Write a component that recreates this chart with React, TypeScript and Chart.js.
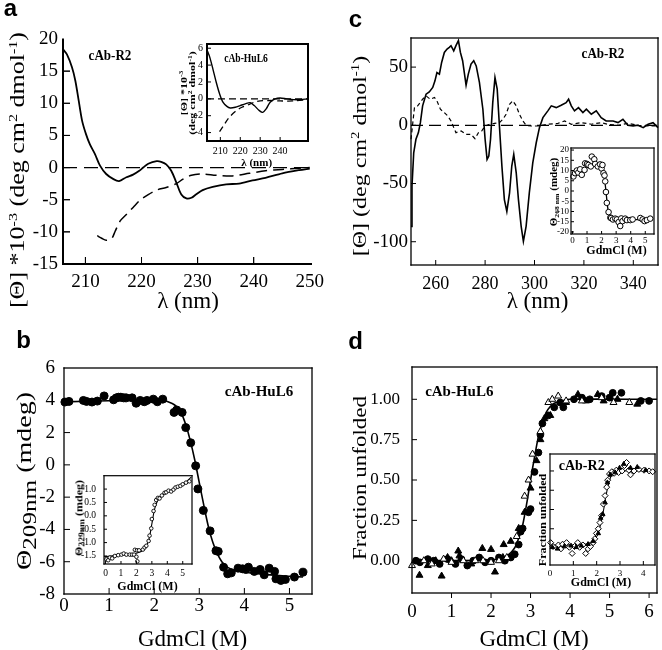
import React, { useEffect, useRef } from 'react';
import { Chart, registerables } from 'chart.js';
Chart.register(...registerables);

const SERIF = '"Liberation Serif", "Times New Roman", serif';
const SANS = '"Liberation Sans", Arial, sans-serif';

type P = [number, number][];

// ---------------- Panel a (main) ----------------
const aXRange: [number, number] = [206, 250];
const aYRange: [number, number] = [-15, 20];
const aXTicks = [210, 220, 230, 240, 250];
const aYTicks = [-15, -10, -5, 0, 5, 10, 15, 20];
const aSolid: P = [[206,18.4],[206.7,17.6],[207.6,15.6],[208.2,13.5],[208.8,10.4],[209.4,7.3],[210.1,5.2],[210.8,3.6],[211.7,2.1],[212.6,0.3],[213.7,-1.0],[215,-1.8],[216,-2.1],[217.3,-1.5],[218.5,-1.1],[219.6,-0.5],[220.3,0],[221.2,0.6],[222.7,1.0],[223.5,0.9],[224.4,0.5],[225.3,-0.5],[226.2,-2.3],[227.1,-4.2],[228,-4.8],[228.9,-4.7],[229.7,-4.2],[230.9,-3.5],[232.7,-3.0],[235.1,-2.6],[237.4,-2.5],[239.8,-2.0],[242.1,-1.6],[245.1,-0.9],[248.1,-0.4],[250,-0.15]];
const aDashed: P = [[212.1,-10.6],[212.9,-11.0],[213.7,-11.3],[214.7,-11.0],[215.3,-9.9],[216.2,-8.3],[217.3,-7.3],[218.5,-6.2],[219.7,-5.1],[221.2,-4.2],[222.7,-3.5],[224.4,-3.1],[226.2,-2.5],[227.4,-1.8],[228.9,-1.2],[230.9,-1.0],[233.3,-1.2],[236.2,-1.3],[239.2,-0.9],[242.1,-0.5],[245.1,-0.3],[248.1,-0.1],[250,0]];
const aZero: P = [[206,0],[250,0]];

// ---------------- Panel a (inset) ----------------
const aiXTicks = [210, 220, 230, 240];
const aiYTicks = [-4, -2, 0, 2, 4, 6];
const aiSolid: P = [[203.3,5.8],[204.6,5.0],[206.3,3.5],[208,1.9],[209.6,0.6],[211.3,-0.4],[213.3,-0.9],[215,-1.08],[217.5,-1.0],[220,-0.8],[222.5,-0.6],[225,-0.46],[227,-0.8],[229.6,-1.4],[231.3,-1.6],[233,-1.2],[235,-0.4],[237.5,0],[240,0.1],[243.3,0],[246.7,-0.1],[250,-0.1],[254,0]];
const aiDashed: P = [[209.6,-3.9],[211.3,-3.3],[214.1,-2.3],[217.5,-1.5],[220.8,-1.0],[224.1,-0.7],[227,-0.4],[230,-0.25],[235,-0.2],[240,-0.25],[246.7,-0.25],[254,-0.1]];
const aiZero: P = [[203.3,0],[254,0]];

// ---------------- Panel c (main) ----------------
const cXTicks = [260, 280, 300, 320, 340];
const cYTicks = [-100, -50, 0, 50];
const cSolid: P = [[250,-86.8],[250.4,-52],[251.1,-23.6],[252,-12],[253,-6.3],[253.8,2.3],[254.7,16.7],[256.1,26.7],[257.4,28.7],[258.8,32.5],[259.7,38.2],[260.5,45.4],[261.5,44],[262.4,54],[263.5,62.6],[264.6,65.5],[265.5,67],[266.2,68.4],[267.3,64],[268.2,68.4],[269.2,72.7],[270,62.6],[270.9,55.5],[272.3,34.5],[273.2,44],[274.3,52.6],[275.4,55.5],[276.4,51],[277.7,36.8],[279.1,13.8],[280,-12],[280.8,-29.3],[281.5,-26.4],[282.2,-12],[283.1,19.5],[284,41],[284.9,31],[285.8,-0.6],[286.8,-35],[287.8,-63.8],[288.8,-73.9],[289.9,-58],[290.8,-35],[291.6,-25],[292.6,-40.8],[293.5,-63.8],[294.6,-86.8],[295.5,-99.7],[296.6,-86.8],[297.9,-58],[299.3,-32.2],[300.7,-15],[302,-2],[303.4,6.6],[305.4,12.4],[306.8,16.7],[308.8,15.2],[310.8,17.2],[312.8,19.5],[313.8,22.4],[314.9,16.7],[316.2,12.4],[317.8,15.2],[319.6,10.9],[321,13.8],[323,9.5],[325,12.4],[327,6.6],[329,3.7],[331.8,3.7],[333.8,2.3],[335.8,5.2],[337.8,0],[339.9,-0.6],[341.9,0],[344,-2],[346,0.9],[348,2.3],[350,-2]];
const cDashed: P = [[250,-12],[251.4,15.2],[252.7,16.7],[254.7,22.4],[256.1,25.3],[257.8,22.4],[259.5,23.9],[260.5,21],[261.9,13.8],[263.5,10.9],[264.9,8],[266.2,3.7],[268.2,-6.3],[270.3,-4.9],[272.3,-7.8],[274.3,-7.8],[275.9,-11.5],[277.3,-6.3],[278.6,-4.9],[280,-0.6],[281.8,0.9],[283.8,1.7],[285.8,2.3],[287.2,5.2],[288.5,9.5],[289.9,18.1],[291.2,21],[292.6,16.7],[293.9,9.5],[295.3,3.7],[296.6,0],[298.6,-0.6],[301.4,-0.6],[305.4,0.9],[309.5,1.7],[312.2,3.7],[314.9,0.9],[319,2.3],[323,0.9],[327,2.3],[329.7,0.9],[333.8,0],[337.8,1.7],[341.9,0],[346,-0.6],[350,-0.6]];
const cZero: P = [[250,0],[350,0]];

// ---------------- Panel c (inset) ----------------
const ciXTicks = [0, 1, 2, 3, 4, 5];
const ciYTicks = [-20, -15, -10, -5, 0, 5, 10, 15, 20];
const ciPoints: P = [[0.07,7.1],[0.18,8.7],[0.3,10],[0.4,9],[0.53,10.6],[0.64,7.9],[0.83,10.3],[0.87,13.5],[1.0,13.2],[1.1,12.7],[1.26,12],[1.33,16.8],[1.5,15.5],[1.56,13.2],[1.74,12],[1.9,13],[2.0,11],[2.06,12.7],[2.13,8.7],[2.2,7.6],[2.25,4.7],[2.3,-0.5],[2.36,-5.8],[2.48,-10.3],[2.6,-13],[2.66,-13.2],[2.78,-13.9],[2.94,-13.5],[3.05,-13.9],[3.17,-15.2],[3.28,-17.1],[3.35,-13.4],[3.44,-14.7],[3.62,-13.5],[3.74,-14.2],[3.97,-14.2],[4.13,-13.9],[4.66,-13.2],[4.82,-13.9],[4.95,-14.7],[5.11,-14.2],[5.34,-13.5]];
const ciFit: P = [[0,8.5],[0.5,10],[1,11.5],[1.5,12.3],[1.8,12.2],[2.0,11],[2.1,9.5],[2.2,6],[2.3,0],[2.4,-7],[2.5,-11.5],[2.6,-13.3],[2.8,-14],[3.5,-14],[5.4,-14]];

// ---------------- Panel b (main) ----------------
const bXTicks = [0, 1, 2, 3, 4, 5];
const bYTicks = [-8, -6, -4, -2, 0, 2, 4, 6];
const bPoints: P = [[0.02,3.89],[0.11,3.93],[0.43,3.99],[0.5,3.93],[0.62,3.89],[0.74,3.95],[0.89,4.27],[1.1,4.03],[1.16,4.15],[1.21,4.19],[1.26,4.19],[1.32,4.15],[1.38,4.15],[1.51,4.15],[1.6,3.82],[1.69,3.99],[1.78,3.91],[1.84,3.99],[1.98,4.07],[2.07,3.91],[2.19,4.07],[2.44,3.25],[2.5,3.4],[2.62,3.25],[2.7,2.31],[2.81,1.37],[2.92,-0.06],[2.97,-1.49],[3.09,-2.82],[3.24,-4.09],[3.37,-5.32],[3.42,-5.36],[3.54,-6.34],[3.63,-6.75],[3.71,-6.69],[3.86,-6.4],[3.96,-6.44],[4.03,-6.48],[4.09,-6.34],[4.22,-6.6],[4.35,-6.48],[4.44,-6.81],[4.55,-6.4],[4.67,-6.6],[4.7,-7.06],[4.81,-7.16],[4.91,-7.1],[5.11,-6.95],[5.3,-6.65]];
const bFit: P = [[0,3.9],[1,3.97],[2,4.02],[2.2,4.0],[2.4,3.8],[2.5,3.6],[2.6,3.2],[2.7,2.5],[2.8,1.5],[2.9,0.3],[3.0,-1.1],[3.1,-2.5],[3.2,-3.8],[3.3,-4.8],[3.4,-5.5],[3.5,-6.0],[3.6,-6.3],[3.8,-6.55],[4.0,-6.65],[4.5,-6.8],[5.0,-6.9],[5.3,-6.95]];

// ---------------- Panel b (inset) ----------------
const biXTicks = [0, 1, 2, 3, 4, 5];
const biYTicks = [-1.5, -1.0, -0.5, 0, 0.5, 1.0];
const biPoints: P = [[0.06,-1.62],[0.17,-1.66],[0.28,-1.56],[0.43,-1.59],[0.6,-1.5],[0.82,-1.47],[1.03,-1.45],[1.18,-1.41],[1.35,-1.45],[1.57,-1.45],[1.72,-1.45],[1.85,-1.45],[2.0,-1.53],[2.06,-1.7],[1.9,-1.27],[2.04,-1.29],[2.17,-1.29],[2.42,-1.26],[2.53,-1.18],[2.64,-1.12],[2.79,-0.94],[2.85,-0.74],[2.96,-0.47],[3.0,-0.12],[3.11,0.18],[3.18,0.41],[3.28,0.59],[3.39,0.67],[3.5,0.65],[3.65,0.76],[3.82,0.86],[3.93,0.88],[4.08,0.94],[4.25,0.91],[4.4,0.98],[4.53,1.06],[4.68,1.09],[4.85,1.12],[5.0,1.18],[5.21,1.24],[5.43,1.29]];
const biFit: P = [[-0.1,-1.53],[1,-1.46],[2,-1.4],[2.5,-1.25],[2.8,-0.9],[3.0,-0.3],[3.2,0.3],[3.5,0.68],[4,0.88],[4.5,1.02],[5,1.15],[5.55,1.45]];

// ---------------- Panel d (main) ----------------
const dXTicks = [0, 1, 2, 3, 4, 5, 6];
const dYTicks = [0, 0.25, 0.5, 0.75, 1.0];
const dCircles: P = [[0.1,0.0],[0.2,-0.01],[0.4,0.01],[0.55,0.0],[0.7,-0.02],[0.9,0.01],[1.1,-0.02],[1.25,0.01],[1.4,-0.03],[1.55,0.0],[1.7,0.02],[1.85,-0.01],[2.0,0.0],[2.2,0.02],[2.35,0.0],[2.5,0.02],[2.6,0.04],[2.7,0.1],[2.75,0.18],[2.8,0.2],[2.95,0.3],[3.0,0.32],[3.1,0.55],[3.2,0.67],[3.25,0.78],[3.3,0.85],[3.45,0.9],[3.6,0.95],[3.75,0.98],[3.83,0.95],[4.1,1.0],[4.3,1.01],[4.5,1.0],[4.8,1.02],[5.0,1.01],[5.08,1.04],[5.3,1.04],[5.79,0.99],[6.0,0.99]];
const dTriFilled: P = [[0.19,-0.09],[0.4,-0.03],[0.6,0.0],[0.75,-0.095],[0.9,0.02],[1.0,0.0],[1.17,0.06],[1.2,0.03],[1.5,-0.02],[1.78,0.076],[2.0,0.07],[2.1,-0.07],[2.3,0.02],[2.32,0.1],[2.5,0.12],[2.7,0.2],[2.85,0.3],[3.0,0.45],[3.15,0.62],[3.25,0.75],[3.35,0.88],[3.5,0.9],[3.9,0.98],[4.2,1.03],[4.4,0.99],[4.7,1.03],[4.85,0.99],[5.2,1.0],[5.7,0.97]];
const dTriOpen: P = [[0.0,-0.03],[0.3,0.0],[0.5,-0.02],[0.8,0.01],[1.0,-0.01],[1.3,0.0],[1.6,0.0],[1.8,0.0],[2.0,-0.01],[2.2,0.0],[2.4,0.02],[2.65,0.15],[2.85,0.4],[2.95,0.5],[3.05,0.66],[3.25,0.8],[3.45,0.98],[3.55,1.0],[3.7,1.02],[3.9,0.99],[4.3,0.99],[4.8,1.01],[5.1,0.98],[5.5,0.98]];
const dFit: P = [[0,0],[2.0,0.005],[2.4,0.03],[2.6,0.08],[2.7,0.14],[2.8,0.22],[2.9,0.35],[3.0,0.5],[3.1,0.64],[3.2,0.77],[3.3,0.86],[3.4,0.92],[3.5,0.955],[3.6,0.975],[3.8,0.99],[4.0,1.0],[6.2,1.0]];

// ---------------- Panel d (inset) ----------------
const diXTicks = [0, 1, 2, 3, 4];
const diYTicks = [0, 0.25, 0.5, 0.75, 1.0];
const diDiamonds: P = [[0.03,0.07],[0.13,0.02],[0.36,0.04],[0.47,-0.01],[0.54,0.05],[0.71,0.07],[0.83,0.01],[0.95,-0.07],[1.05,0.02],[1.19,0.07],[1.27,0.01],[1.41,0.04],[1.53,-0.07],[1.63,-0.01],[1.73,0.02],[1.85,0.07],[1.92,0.12],[1.99,0.19],[2.07,0.25],[2.14,0.33],[2.21,0.42],[2.29,0.57],[2.36,0.68],[2.43,0.79],[2.47,0.88],[2.55,0.96],[2.65,0.99],[2.75,0.97],[2.84,1.01],[2.94,0.98],[3.09,1.0],[3.19,1.07],[3.28,1.11],[3.38,1.01],[3.45,0.95],[3.6,1.0],[3.81,1.02],[4.03,1.01],[4.25,1.0],[4.4,0.99]];
const diFilled: P = [[0.1,0.01],[0.32,-0.01],[0.61,0.02],[0.9,0.03],[1.12,0.01],[1.34,0.03],[1.63,0.05],[1.85,0.09],[2.07,0.19],[2.17,0.39],[2.26,0.44],[2.36,0.59],[2.46,0.85],[2.58,0.95],[2.79,0.98],[2.98,1.04],[3.16,1.09],[3.45,1.04],[3.74,1.05],[4.1,1.01]];
const diFit: P = [[0,0.04],[1.0,0.04],[1.5,0.05],[1.8,0.08],[2.0,0.15],[2.1,0.23],[2.2,0.35],[2.3,0.5],[2.4,0.68],[2.5,0.82],[2.6,0.92],[2.7,0.97],[2.9,1.0],[4.5,1.0]];

// ---------------- helpers ----------------
const pts = (d: P) => d.map(([x, y]) => ({ x, y }));

const line = (d: P, w: number, dash: number[] = [], tension = 0, clip: any = 3) => ({
  data: pts(d), borderColor: '#000', backgroundColor: '#000', borderWidth: w, borderDash: dash,
  pointRadius: 0, tension, fill: false, showLine: true, clip,
});
const marks = (d: P, style: string, r: number, filled: boolean, bw = 1) => ({
  data: pts(d), showLine: false, pointStyle: style, pointRadius: r,
  pointBackgroundColor: filled ? '#000' : '#fff', pointBorderColor: '#000', pointBorderWidth: bw,
  borderColor: '#000', backgroundColor: filled ? '#000' : '#fff', clip: 8,
});
const tickMarks = (d: P, len: number, rot: number) => ({
  data: pts(d), showLine: false, pointStyle: 'line', pointRadius: len, pointRotation: rot,
  pointBorderColor: '#000', pointBorderWidth: 1, borderColor: '#000', backgroundColor: '#000', clip: 0,
});
const inside = (v: number, r: [number, number]) => v > r[0] && v < r[1];

interface AxisSpec { min: number; max: number; ticks: number[]; size: number; pad: number; labels?: boolean; fmt?: (v: number) => string }
interface FrameOpts { sides: string; lw: number; tick: number; xOut?: boolean; fillArea?: boolean }
interface PanelSpec { cv: [number, number, number, number]; plot: [number, number, number, number]; x: AxisSpec; y: AxisSpec; frame: FrameOpts; datasets: any[] }

function plotRect(chart: any) {
  const xs = chart.scales.x, ys = chart.scales.y;
  return { L: xs.left, R: xs.right, Tp: ys.top, B: ys.bottom, xs, ys };
}

function drawFrame(chart: any, o: FrameOpts) {
  if (!o.sides) return;
  const { ctx } = chart;
  const { L, R, Tp, B, xs, ys } = plotRect(chart);
  const w = o.lw, h2 = w / 2;
  ctx.save();
  ctx.fillStyle = '#000';
  if (o.sides.indexOf('l') >= 0) ctx.fillRect(L - h2, Tp - h2, w, B - Tp + w);
  if (o.sides.indexOf('b') >= 0) ctx.fillRect(L - h2, B - h2, R - L + w, w);
  if (o.sides.indexOf('t') >= 0) ctx.fillRect(L - h2, Tp - h2, R - L + w, w);
  if (o.sides.indexOf('r') >= 0) ctx.fillRect(R - h2, Tp - h2, w, B - Tp + w);
  for (const t of xs.ticks) {
    const px = xs.getPixelForValue(t.value);
    if (px <= L + 1 || px >= R - 1) continue;
    if (o.xOut) ctx.fillRect(px - 0.5, B, 1, o.tick);
    else ctx.fillRect(px - 0.5, B - o.tick, 1, o.tick);
  }
  for (const t of ys.ticks) {
    const py = ys.getPixelForValue(t.value);
    if (py <= Tp + 1 || py >= B - 1) continue;
    ctx.fillRect(L, py - 0.5, o.tick, 1);
  }
  ctx.restore();
}

function makeFrame(o: FrameOpts) {
  return {
    id: 'frame',
    beforeDatasetsDraw(chart: any) {
      if (!o.fillArea) return;
      const { ctx } = chart;
      const { L, R, Tp, B } = plotRect(chart);
      ctx.save();
      ctx.fillStyle = '#fff';
      ctx.fillRect(L, Tp, R - L, B - Tp);
      ctx.restore();
    },
    afterDatasetsDraw(chart: any) { drawFrame(chart, o); },
  };
}

function buildConfig(p: PanelSpec): any {
  const [cx, cy, cw, ch] = p.cv;
  const [l, t, r, b] = p.plot;
  const axis = (a: AxisSpec, horiz: boolean) => ({
    type: 'linear', min: a.min, max: a.max,
    grid: { display: false, drawTicks: false, tickLength: 0 },
    border: { display: false },
    afterBuildTicks: (s: any) => { s.ticks = a.ticks.map((v) => ({ value: v })); },
    afterFit: (s: any) => { if (horiz) s.height = cy + ch - b; else s.width = l - cx; },
    ticks: {
      display: a.labels !== false, color: '#000', padding: a.pad,
      font: { family: SERIF, size: a.size }, maxRotation: 0, minRotation: 0, autoSkip: false,
      callback: (v: any) => (a.fmt ? a.fmt(Number(v)) : String(v)),
    },
  });
  return {
    type: 'line',
    data: { datasets: p.datasets },
    options: {
      responsive: false, maintainAspectRatio: false, animation: false, events: [],
      layout: { padding: { left: 0, top: t - cy, right: cx + cw - r, bottom: 0 } },
      scales: { x: axis(p.x, true), y: axis(p.y, false) },
      plugins: { legend: { display: false }, tooltip: { enabled: false } },
    },
    plugins: [makeFrame(p.frame)],
  };
}

function ChartPanel({ spec }: { spec: PanelSpec }) {
  const ref = useRef<HTMLCanvasElement>(null);
  useEffect(() => {
    const chart = new Chart(ref.current as HTMLCanvasElement, buildConfig(spec));
    return () => chart.destroy();
  }, []);
  const [x, y, w, h] = spec.cv;
  return <canvas ref={ref} width={w} height={h} style={{ position: 'absolute', left: x, top: y, width: w, height: h, pointerEvents: 'none' }} />;
}

function T(props: { x: number; y: number; size: number; bold?: boolean; rot?: boolean; sx?: number; sy?: number; family?: string; lh?: number | string; children: any }) {
  const { x, y, size, bold, rot, sx = 1, sy = 1, family = SERIF, lh = 1, children } = props;
  const tf = `translate(-50%, -50%)${rot ? ' rotate(-90deg)' : ''} scale(${sx}, ${sy})`;
  return (
    <div style={{ position: 'absolute', left: x, top: y, transform: tf, fontSize: size, fontWeight: bold ? 700 : 400, fontFamily: family, whiteSpace: 'nowrap', lineHeight: lh, textAlign: 'center', color: '#000', pointerEvents: 'none' }}>
      {children}
    </div>
  );
}
const Sup = ({ children }: { children: any }) => <span style={{ fontSize: '0.62em', verticalAlign: '0.6em', lineHeight: 0 }}>{children}</span>;
const Sub = ({ children, s = '0.9em' }: { children: any; s?: string }) => <span style={{ fontSize: s, verticalAlign: '-0.3em', lineHeight: 0 }}>{children}</span>;

const f1 = (v: number) => v.toFixed(1);
const f2 = (v: number) => v.toFixed(2);

const specs: PanelSpec[] = [
  {
    cv: [0, 0, 331, 320], plot: [63, 39, 312, 264],
    x: { min: aXRange[0], max: aXRange[1], ticks: aXTicks, size: 19, pad: 7 },
    y: { min: aYRange[0], max: aYRange[1], ticks: aYTicks, size: 19, pad: 5 },
    frame: { sides: 'lb', lw: 1.4, tick: 7 },
    datasets: [
      line(aSolid, 1.8, [], 0.3),
      line(aDashed, 1.5, [11, 6], 0.3),
      line(aZero, 1.3, [14, 7]),
      line([[aXRange[0], aYRange[0]], [aXRange[0], aYRange[1]]], 1.4, [], 0, false),
      line([[aXRange[0], aYRange[0]], [aXRange[1], aYRange[0]]], 1.4, [], 0, false),
      tickMarks(aXTicks.filter((v) => inside(v, aXRange)).map((v) => [v, aYRange[0]] as [number, number]), 7, 90),
      tickMarks(aYTicks.filter((v) => inside(v, aYRange)).map((v) => [aXRange[0], v] as [number, number]), 7, 0),
    ],
  },
  {
    cv: [178, 34, 140, 140], plot: [207, 41, 308, 141],
    x: { min: 203.3, max: 254, ticks: aiXTicks, size: 10, pad: 4 },
    y: { min: -5, max: 6.5, ticks: aiYTicks, size: 10, pad: 4 },
    frame: { sides: 'lbtr', lw: 2, tick: 4, fillArea: true },
    datasets: [line(aiSolid, 1.4, [], 0.3), line(aiDashed, 1.3, [6, 4], 0.3), line(aiZero, 1.1, [7, 4])],
  },
  {
    cv: [331, 0, 331, 320], plot: [411, 38, 658, 265],
    x: { min: 250, max: 350, ticks: cXTicks, size: 18, pad: 8 },
    y: { min: -120, max: 75, ticks: cYTicks, size: 19, pad: 3 },
    frame: { sides: 'lbtr', lw: 1.3, tick: 5 },
    datasets: [line(cSolid, 1.6), line(cDashed, 1.2, [4, 3]), line(cZero, 1.3, [12, 6])],
  },
  {
    cv: [548, 140, 114, 125], plot: [571, 148, 654, 234],
    x: { min: -0.1, max: 5.6, ticks: ciXTicks, size: 9, pad: 1 },
    y: { min: -21, max: 21, ticks: ciYTicks, size: 9, pad: 2 },
    frame: { sides: 'lbtr', lw: 1.2, tick: 3, fillArea: true },
    datasets: [marks(ciPoints, 'circle', 2.8, false, 1), line(ciFit, 1.3, [], 0.2)],
  },
  {
    cv: [0, 320, 331, 330], plot: [64, 368, 312, 594],
    x: { min: 0, max: 5.5, ticks: bXTicks, size: 19, pad: 1 },
    y: { min: -8, max: 6, ticks: bYTicks, size: 19, pad: 9 },
    frame: { sides: 'lbtr', lw: 1.3, tick: 6 },
    datasets: [marks(bPoints, 'circle', 4, true, 1), line(bFit, 1.6, [], 0.3)],
  },
  {
    cv: [70, 462, 130, 140], plot: [104, 472, 192, 564],
    x: { min: -0.1, max: 5.6, ticks: biXTicks, size: 9.5, pad: 4 },
    y: { min: -1.8, max: 1.5, ticks: biYTicks, size: 9.5, pad: 8, fmt: f1 },
    frame: { sides: 'lbtr', lw: 1.2, tick: 3, fillArea: true },
    datasets: [marks(biPoints, 'circle', 1.8, false, 0.9), line(biFit, 1.1, [], 0.3)],
  },
  {
    cv: [331, 320, 331, 330], plot: [412, 367, 659, 593],
    x: { min: 0, max: 6.2, ticks: dXTicks, size: 19, pad: 8 },
    y: { min: -0.2, max: 1.2, ticks: dYTicks, size: 17, pad: 12, fmt: f2 },
    frame: { sides: 'lbtr', lw: 1.3, tick: 5, xOut: true },
    datasets: [
      marks(dTriOpen, 'triangle', 4, false, 1),
      marks(dTriFilled, 'triangle', 4, true, 1),
      marks(dCircles, 'circle', 3.4, true, 1),
      line(dFit, 1.6, [], 0.3),
    ],
  },
  {
    cv: [530, 446, 132, 150], plot: [550, 454, 655, 565],
    x: { min: 0, max: 4.5, ticks: diXTicks, size: 9, pad: 3 },
    y: { min: -0.22, max: 1.22, ticks: diYTicks, size: 9, pad: 2, labels: false },
    frame: { sides: 'lbtr', lw: 1.2, tick: 4, fillArea: true },
    datasets: [
      marks(diFilled, 'triangle', 2.6, true, 1),
      marks(diDiamonds, 'rectRot', 3, false, 1),
      line(diFit, 1.1, [], 0.3),
    ],
  },
];

// axis frame of panel a, laid over everything as a fallback
function AxisFrameA() {
  const [l, t, r, b] = specs[0].plot;
  const lw = 1.4;
  const style = { position: 'absolute' as const, background: '#000', pointerEvents: 'none' as const, zIndex: 10 };
  return (
    <>
      <div style={{ ...style, left: l - lw / 2, top: t, width: lw, height: b - t + lw / 2 }} />
      <div style={{ ...style, left: l - lw / 2, top: b - lw / 2, width: r - l + lw / 2, height: lw }} />
    </>
  );
}

export default function App() {
  return (
    <div style={{ position: 'absolute', left: 0, top: 0, width: 662, height: 650, background: '#fff', overflow: 'hidden', fontFamily: SERIF }}>
      <ChartPanel spec={specs[0]} />
      <ChartPanel spec={specs[2]} />
      <ChartPanel spec={specs[4]} />
      <ChartPanel spec={specs[6]} />
      <ChartPanel spec={specs[1]} />
      <ChartPanel spec={specs[3]} />
      <ChartPanel spec={specs[5]} />
      <ChartPanel spec={specs[7]} />

      {/* panel letters */}
      <T x={10.5} y={8} size={24} bold family={SANS}>a</T>
      <T x={355.5} y={19} size={24} bold family={SANS}>c</T>
      <T x={23.5} y={340} size={24} bold family={SANS}>b</T>
      <T x={355.5} y={340.5} size={24} bold family={SANS}>d</T>

      {/* panel a */}
      <T x={18} y={170} size={26} rot sy={0.8}>[Θ] *10<Sup>-3</Sup> (deg cm<Sup>2</Sup> dmol<Sup>-1</Sup>)</T>
      <T x={188} y={300} size={23}>λ (nm)</T>
      <T x={110} y={55} size={15} bold sx={0.87}>cAb-R2</T>
      <T x={246.3} y={57.5} size={12} bold sx={0.8}>cAb-HuL6</T>
      <T x={188} y={93} size={12} bold rot sy={0.7} lh="12px">
        <div>[Θ] *10<Sup>-3</Sup></div>
        <div>(deg cm<Sup>2</Sup> dmol<Sup>-1</Sup>)</div>
      </T>
      <T x={256.7} y={162} size={11} bold>λ (nm)</T>

      {/* panel c */}
      <T x={360} y={156} size={24} rot sy={0.8}>[Θ] (deg cm<Sup>2</Sup> dmol<Sup>-1</Sup>)</T>
      <T x={537.5} y={300} size={23}>λ (nm)</T>
      <T x={602.7} y={53.3} size={15} bold sx={0.87}>cAb-R2</T>
      <T x={554} y={192} size={11} bold rot sy={0.85}>Θ<Sub s="0.7em">268 nm</Sub> (mdeg)</T>
      <T x={616.5} y={250} size={12} bold>GdmCl (M)</T>

      {/* panel b */}
      <T x={24} y={481} size={28} rot sy={0.75}>Θ<Sub>209nm</Sub> (mdeg)</T>
      <T x={192.5} y={638} size={23}>GdmCl (M)</T>
      <T x={259} y={390.7} size={15} bold>cAb-HuL6</T>
      <T x={79} y={517.5} size={12} bold rot sy={0.8}>Θ<Sub s="0.8em">229nm</Sub> (mdeg)</T>
      <T x={147.5} y={586} size={12} bold>GdmCl (M)</T>

      {/* panel d */}
      <T x={360} y={478} size={23} rot sy={0.85}>Fraction unfolded</T>
      <T x={534} y={638} size={23}>GdmCl (M)</T>
      <T x={459.3} y={390.7} size={15} bold>cAb-HuL6</T>
      <T x={581.7} y={465.5} size={14} bold>cAb-R2</T>
      <T x={543} y={519.5} size={12} bold rot sy={0.85}>Fraction unfolded</T>
      <T x={601} y={582} size={12} bold>GdmCl (M)</T>

      <AxisFrameA />
    </div>
  );
}
